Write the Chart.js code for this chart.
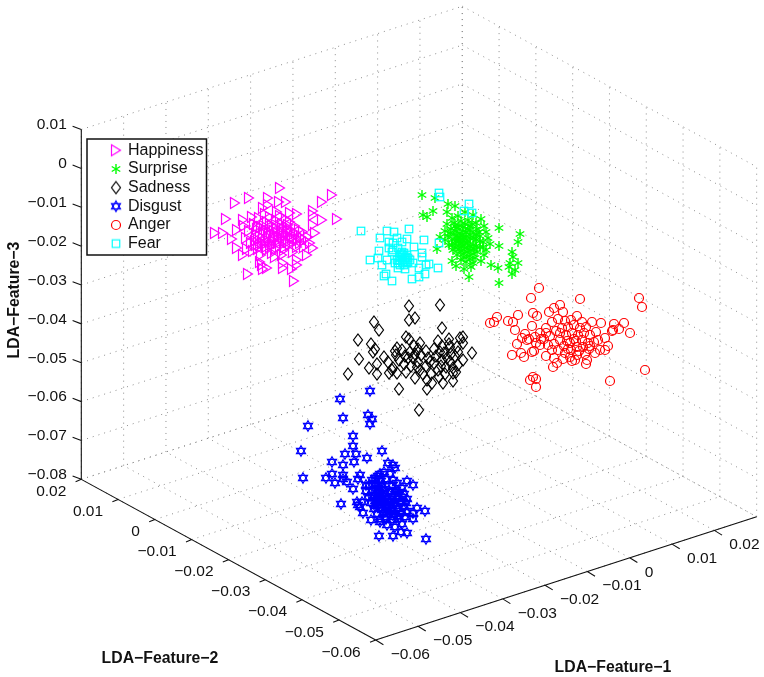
<!DOCTYPE html>
<html>
<head>
<meta charset="utf-8">
<title>LDA features</title>
<script src="https://cdn.jsdelivr.net/npm/chart.js@4/dist/chart.umd.min.js"></script>
<style>
  html, body { margin: 0; padding: 0; background: #fff; }
  canvas { display: block; }
</style>
</head>
<body>
<canvas id="chart" width="764" height="677"></canvas>
<script>
// --- Axis ticks ---
const f1Ticks = [-0.06, -0.05, -0.04, -0.03, -0.02, -0.01, 0, 0.01, 0.02];
const f2Ticks = [0.02, 0.01, 0, -0.01, -0.02, -0.03, -0.04, -0.05, -0.06];
const f3Ticks = [0.01, 0, -0.01, -0.02, -0.03, -0.04, -0.05, -0.06, -0.07, -0.08];
const f1Limits = [-0.06, 0.03];
const f2Limits = [-0.06, 0.02];
const f3Limits = [-0.08, 0.01];

// --- Clusters as [across, down] in the plane of the view ---
const seriesNames = ['Happiness', 'Surprise', 'Sadness', 'Disgust', 'Anger', 'Fear'];

const happiness = [
  [280,188],[249,198],[235,203],[268,198],[279,202],[286,202],[332,195],[322,202],[226,219],[313,211],
  [313,215],[322,220],[337,219],[215,233],[223,233],[232,239],[237,230],[237,248],[248,274],[294,281],
  [313,248],[307,255],[315,233],[313,225],[243,255],[262,265],[263,269],[267,268],[260,262],[283,263],
  [283,268],[292,269],[297,265],[297,260],[275,257],[282,255],[263,208],[268,205],[277,212],[290,213],
  [297,214],[243,220],[252,217],[244,226],[249,231],[246,238],[251,243],[247,249],[254,224],[256,234],
  [255,241],[253,251],[259,218],[261,227],[260,236],[262,243],[258,249],[261,255],[265,214],[267,222],
  [266,230],[268,237],[265,244],[267,250],[270,217],[272,226],[271,233],[273,241],[270,247],[272,253],
  [276,220],[277,228],[275,236],[278,243],[276,249],[280,216],[282,224],[281,232],[283,238],[280,246],
  [284,250],[286,219],[287,227],[286,235],[288,242],[285,247],[290,222],[291,231],[292,238],[290,245],
  [293,252],[295,226],[296,233],[294,241],[297,247],[299,230],[301,237],[300,243],[303,232],[305,240],
  [304,247],[308,237],[310,243],[274,231],[263,233],[288,232],[257,229],[278,236],[269,241],[284,229],
  [258,226],[264,226],[270,224],[276,225],[282,228],[288,225],[263,238],[258,240],[269,234],[279,240],
  [285,241],[272,245],[266,247],[260,245],[274,238],[282,235],[294,236],[298,240],[256,245],[290,236]
];
const surprise = [
  [422,195],[435,198],[448,204],[455,206],[433,211],[423,215],[427,217],[447,212],[473,215],[481,219],
  [499,228],[520,234],[518,242],[499,246],[437,249],[440,237],[512,252],[513,257],[518,263],[510,263],
  [515,270],[512,274],[509,267],[499,283],[469,277],[498,268],[491,265],[471,267],[464,269],[456,266],
  [452,261],[465,212],[452,218],[458,216],[447,224],[454,223],[461,221],[468,220],[476,223],[484,226],
  [445,231],[451,229],[457,228],[463,227],[470,226],[477,229],[486,232],[448,236],[454,234],[460,233],
  [466,232],[473,233],[480,236],[488,238],[445,240],[452,240],[458,238],[464,238],[470,238],[476,240],
  [483,242],[490,244],[449,245],[455,244],[461,243],[467,243],[473,245],[480,247],[486,250],[453,250],
  [459,249],[465,248],[471,250],[477,252],[484,255],[457,255],[463,254],[469,256],[475,258],[481,261],
  [461,260],[466,262],[473,263],[462,235],[468,241],[459,241],[456,231],[463,231],[470,230],[457,236],
  [463,240],[470,235],[476,235],[452,245],[458,246],[464,245],[470,246],[476,246],[456,241],[461,251],
  [467,252],[473,254],[459,226],[465,224],[472,224],[479,232],[483,247],[450,233],[455,226],[468,229],
  [474,238],[466,236],[460,238],[455,248],[462,246],[468,249],[480,241],[474,249],[464,257],[470,259]
];
const sadness = [
  [409,306],[440,305],[409,320],[415,318],[374,322],[379,330],[442,328],[358,340],[371,344],[359,359],
  [348,374],[369,368],[377,374],[373,352],[375,349],[377,364],[384,357],[389,373],[399,389],[419,410],
  [406,337],[409,339],[397,348],[414,346],[420,343],[438,341],[449,339],[460,338],[463,337],[463,343],
  [472,353],[463,360],[455,356],[453,373],[453,381],[443,383],[432,383],[427,380],[427,389],[415,378],
  [406,372],[397,373],[393,368],[388,362],[396,355],[402,350],[399,360],[404,364],[410,352],[413,358],
  [411,366],[418,349],[421,355],[418,362],[420,370],[426,351],[428,358],[426,366],[431,374],[434,349],
  [436,356],[434,363],[438,370],[442,346],[444,353],[442,360],[446,367],[445,374],[450,347],[451,354],
  [450,362],[453,368],[457,347],[458,365],[456,372],[439,377],[423,374],[408,358],[392,370],[395,351],
  [405,356],[415,354],[417,367],[430,362],[440,352],[447,358],[441,366],[449,344],[458,352]
];
const disgust = [
  [370,391],[340,399],[343,418],[368,415],[372,419],[370,424],[308,426],[353,436],[353,446],[301,451],
  [345,454],[356,454],[382,451],[332,462],[354,462],[367,458],[343,465],[303,478],[326,478],[332,474],
  [335,483],[343,475],[343,479],[347,482],[353,489],[358,479],[360,475],[341,504],[388,463],[393,465],
  [395,468],[407,481],[413,485],[425,511],[417,508],[413,513],[413,519],[426,539],[407,533],[401,532],
  [393,536],[395,527],[379,536],[371,520],[380,522],[363,513],[357,502],[360,507],[358,505],[362,502],
  [372,480],[378,476],[384,472],[390,474],[369,486],[375,484],[381,481],[393,480],[397,483],[366,491],
  [372,491],[378,488],[384,489],[390,492],[396,490],[402,488],[368,497],[374,496],[380,495],[386,496],
  [392,497],[398,496],[404,494],[371,503],[377,502],[383,501],[389,502],[395,503],[401,501],[407,499],
  [374,509],[380,508],[386,507],[392,508],[398,509],[404,507],[377,514],[383,513],[389,514],[395,514],
  [401,513],[407,511],[380,519],[386,519],[392,520],[399,519],[405,517],[387,525],[402,524],[378,499],
  [385,493],[391,505],[382,505],[397,499],[375,490],[379,492],[383,496],[387,499],[391,501],[395,494],
  [399,492],[376,500],[380,498],[384,503],[388,505],[392,510],[396,506],[400,503],[378,505],[382,510],
  [386,512],[390,511],[394,517],[378,486],[382,485],[372,498],[375,506],[403,497],[406,503],[385,517],
  [398,516],[386,479],[380,474],[375,478],[392,486],[366,485]
];
const anger = [
  [539,288],[531,298],[580,299],[639,298],[642,307],[497,317],[490,323],[494,322],[518,315],[508,321],
  [513,322],[515,330],[533,313],[537,316],[549,312],[554,308],[560,305],[563,312],[577,316],[532,326],
  [517,344],[521,353],[512,355],[524,357],[532,352],[534,351],[546,356],[553,367],[557,363],[554,358],
  [563,359],[530,380],[533,377],[536,379],[536,387],[610,381],[645,370],[630,333],[624,323],[614,324],
  [619,329],[613,330],[612,331],[601,323],[592,322],[596,332],[605,338],[608,346],[605,350],[600,350],
  [595,353],[587,360],[586,364],[575,360],[572,361],[582,322],[525,334],[529,339],[535,337],[540,333],
  [546,328],[552,322],[558,319],[565,321],[571,320],[544,339],[550,336],[556,331],[562,328],[568,327],
  [574,325],[580,328],[586,327],[548,345],[554,344],[560,340],[566,335],[572,333],[578,335],[584,333],
  [590,335],[552,350],[558,350],[564,346],[570,343],[576,341],[582,340],[588,343],[594,342],[565,353],
  [571,350],[577,347],[583,347],[589,349],[577,355],[570,357],[540,345],[536,343],[527,340],[522,338],
  [567,341],[574,339],[546,333],[541,339],[560,333],[568,349],[579,351],[585,354],[598,340],[590,346]
];
const fear = [
  [439,193],[440,197],[469,204],[464,211],[472,213],[361,231],[387,231],[394,232],[409,229],[380,238],
  [424,240],[407,239],[439,243],[414,247],[379,251],[378,258],[370,260],[382,265],[387,260],[422,253],
  [422,257],[438,268],[429,264],[426,265],[419,268],[425,274],[419,277],[412,279],[392,281],[386,274],
  [384,276],[405,269],[398,268],[395,263],[389,242],[393,243],[397,238],[402,242],[389,248],[393,250],
  [398,248],[402,252],[400,257],[405,258],[397,260],[403,263],[408,262],[413,263],[400,265],[407,255],
  [392,252],[403,255],[410,260],[398,263],[407,263],[402,260],[405,260],[401,254],[404,253],[399,260],
  [406,257],[402,257],[408,258],[404,265]
];

// --- View of the 3-D box: where one step of 0.01 on each feature lands ---
const viewOrigin = { x: 375.7, y: 640 };
const f1Step = { x: 42.33, y: -13.7 };
const f2Step = { x: -36.8, y: -20.08 };
const f3Step = { x: 0, y: -38.87 };

function project(f1, f2, f3) {
  const a = (f1 - f1Limits[0]) * 100, b = (f2 - f2Limits[0]) * 100, c = (f3 - f3Limits[0]) * 100;
  return {
    x: viewOrigin.x + a * f1Step.x + b * f2Step.x + c * f3Step.x,
    y: viewOrigin.y + a * f1Step.y + b * f2Step.y + c * f3Step.y
  };
}

// --- Line work, gaps between pieces ---
function pieces(list) {
  const out = [];
  list.forEach(p => { out.push(p[0], p[1], { x: p[0].x, y: null }); });
  return out;
}

const f1All = f1Ticks.concat(f1Limits[1]);
const f3Lo = f3Limits[0], f3Hi = f3Limits[1];
const f2Lo = f2Limits[0], f2Hi = f2Limits[1];
const f1Lo = f1Limits[0], f1Hi = f1Limits[1];

const gridLines = [];
f1All.forEach(v => {
  gridLines.push([project(v, f2Lo, f3Lo), project(v, f2Hi, f3Lo)]);
  gridLines.push([project(v, f2Hi, f3Lo), project(v, f2Hi, f3Hi)]);
});
f2Ticks.forEach(v => {
  gridLines.push([project(f1Lo, v, f3Lo), project(f1Hi, v, f3Lo)]);
  gridLines.push([project(f1Hi, v, f3Lo), project(f1Hi, v, f3Hi)]);
});
f3Ticks.forEach(v => {
  gridLines.push([project(f1Lo, f2Hi, v), project(f1Hi, f2Hi, v)]);
  gridLines.push([project(f1Hi, f2Hi, v), project(f1Hi, f2Lo, v)]);
});

const axisLines = [
  [project(f1Lo, f2Hi, f3Lo), project(f1Lo, f2Hi, f3Hi)],
  [project(f1Lo, f2Hi, f3Lo), project(f1Lo, f2Lo, f3Lo)],
  [project(f1Lo, f2Lo, f3Lo), project(f1Hi, f2Lo, f3Lo)]
];
function tick(p, dx, dy) { return [p, { x: p.x + dx, y: p.y + dy }]; }
f1Ticks.forEach(v => axisLines.push(tick(project(v, f2Lo, f3Lo), 7.7, 4.7)));
f2Ticks.forEach(v => axisLines.push(tick(project(f1Lo, v, f3Lo), -5.7, 2.3)));
f3Ticks.forEach(v => axisLines.push(tick(project(f1Lo, f2Hi, v), -8.7, -3.3)));

// --- Markers ---
function marker(w, h, draw) {
  const c = document.createElement('canvas');
  c.width = w; c.height = h;
  const g = c.getContext('2d');
  g.translate(w / 2, h / 2);
  g.lineWidth = 1.2;
  g.lineJoin = 'miter';
  draw(g);
  return c;
}
function poly(g, pts) {
  g.beginPath();
  pts.forEach((p, i) => i ? g.lineTo(p[0], p[1]) : g.moveTo(p[0], p[1]));
  g.closePath();
  g.stroke();
}
const markers = {
  Happiness: marker(14, 16, g => { g.strokeStyle = '#ff00ff'; poly(g, [[-4.5, -5.5], [4.5, 0], [-4.5, 5.5]]); }),
  Surprise: marker(14, 14, g => {
    g.strokeStyle = '#00ff00'; g.lineWidth = 1.4;
    [[0, -5], [4.3, -2.5], [4.3, 2.5], [0, 5], [-4.3, 2.5], [-4.3, -2.5]].forEach(p => {
      g.beginPath(); g.moveTo(0, 0); g.lineTo(p[0], p[1]); g.stroke();
    });
  }),
  Sadness: marker(14, 16, g => { g.strokeStyle = '#000'; poly(g, [[0, -6], [4.5, 0], [0, 6], [-4.5, 0]]); }),
  Disgust: marker(14, 14, g => {
    g.strokeStyle = '#0000ff';
    poly(g, [[0, -5.2], [4.5, 2.6], [-4.5, 2.6]]);
    poly(g, [[0, 5.2], [4.5, -2.6], [-4.5, -2.6]]);
  }),
  Anger: marker(14, 14, g => { g.strokeStyle = '#ff0000'; g.beginPath(); g.arc(0, 0, 4.5, 0, Math.PI * 2); g.stroke(); }),
  Fear: marker(12, 12, g => { g.strokeStyle = '#00ffff'; g.strokeRect(-3.75, -3.75, 7.5, 7.5); })
};

const clusterData = [happiness, surprise, sadness, disgust, anger, fear];
const seriesColors = ['#ff00ff', '#00ff00', '#000000', '#0000ff', '#ff0000', '#00ffff'];

const clusterSets = seriesNames.map((name, i) => ({
  type: 'scatter',
  label: name,
  data: clusterData[i].map(p => ({ x: p[0], y: p[1] })),
  pointStyle: markers[name],
  pointRadius: 5,
  borderColor: seriesColors[i],
  backgroundColor: seriesColors[i],
  order: seriesNames.length - i
}));

const gridSet = {
  type: 'line', label: 'grid', data: pieces(gridLines), pointRadius: 0,
  borderColor: '#8c8c8c', borderWidth: 1, borderDash: [1, 5], tension: 0, spanGaps: false, order: 20
};
const axisSet = {
  type: 'line', label: 'axes', data: pieces(axisLines), pointRadius: 0,
  borderColor: '#111', borderWidth: 1.1, tension: 0, spanGaps: false, order: 19
};

// --- Text and legend box ---
const TEXT = '#111';
const TICK_FONT = '15.5px "Liberation Sans", Arial, sans-serif';
const TITLE_FONT = 'bold 15.8px "Liberation Sans", Arial, sans-serif';

function tickLabel(v) {
  return v === 0 ? '0' : (v < 0 ? '\u2212' : '') + Math.abs(v).toFixed(2);
}

const boxText = {
  id: 'boxText',
  afterLayout(chart) {
    const lg = chart.legend;
    lg.left = 109.3; lg.right = 206; lg.top = 139.6; lg.bottom = 262;
    lg.width = lg.right - lg.left; lg.height = lg.bottom - lg.top;
  },
  afterDatasetsDraw(chart) {
    const ctx = chart.ctx, sx = chart.scales.x, sy = chart.scales.y;
    const at = p => ({ x: sx.getPixelForValue(p.x), y: sy.getPixelForValue(p.y) });
    const put = (text, p, dx, dy, align) => {
      ctx.textAlign = align;
      ctx.fillText(text, p.x + dx, p.y + dy);
    };
    ctx.save();
    ctx.fillStyle = TEXT;
    ctx.textBaseline = 'middle';
    ctx.font = TICK_FONT;
    f1Ticks.forEach(v => put(tickLabel(v), at(project(v, f2Lo, f3Lo)), 15, 14.5, 'left'));
    f2Ticks.forEach(v => put(tickLabel(v), at(project(f1Lo, v, f3Lo)), -15, 12.3, 'right'));
    f3Ticks.forEach(v => put(tickLabel(v), at(project(f1Lo, f2Hi, v)), -14.5, -4.5, 'right'));
    ctx.font = TITLE_FONT;
    ctx.textAlign = 'center';
    ctx.fillText('LDA\u2212Feature\u22121', 613, 667.5);
    ctx.fillText('LDA\u2212Feature\u22122', 160, 659);
    ctx.translate(15, 300);
    ctx.rotate(-Math.PI / 2);
    ctx.fillText('LDA\u2212Feature\u22123', 0, 0);
    ctx.restore();

    // the legend sits over the marks and grid
    ctx.save();
    ctx.fillStyle = '#fff';
    ctx.strokeStyle = '#111';
    ctx.lineWidth = 1.5;
    ctx.fillRect(87, 139, 119.5, 116);
    ctx.strokeRect(87, 139, 119.5, 116);
    ctx.restore();
    chart.legend.draw();
  }
};

new Chart(document.getElementById('chart').getContext('2d'), {
  data: { datasets: clusterSets.concat([axisSet, gridSet]) },
  plugins: [boxText],
  options: {
    responsive: false,
    animation: false,
    layout: { padding: 0, autoPadding: false },
    scales: {
      x: { type: 'linear', min: 0, max: 764, display: false },
      y: { type: 'linear', min: 0, max: 677, reverse: true, display: false }
    },
    plugins: {
      tooltip: { enabled: false },
      legend: {
        display: true,
        position: 'chartArea',
        align: 'start',
        labels: {
          usePointStyle: true,
          boxWidth: 8,
          padding: 2.67,
          color: TEXT,
          font: { family: '"Liberation Sans", Arial, sans-serif', size: 16, lineHeight: 1 },
          filter: item => seriesNames.includes(item.text),
          sort: (a, b) => seriesNames.indexOf(a.text) - seriesNames.indexOf(b.text)
        }
      }
    }
  }
});
</script>
</body>
</html>
